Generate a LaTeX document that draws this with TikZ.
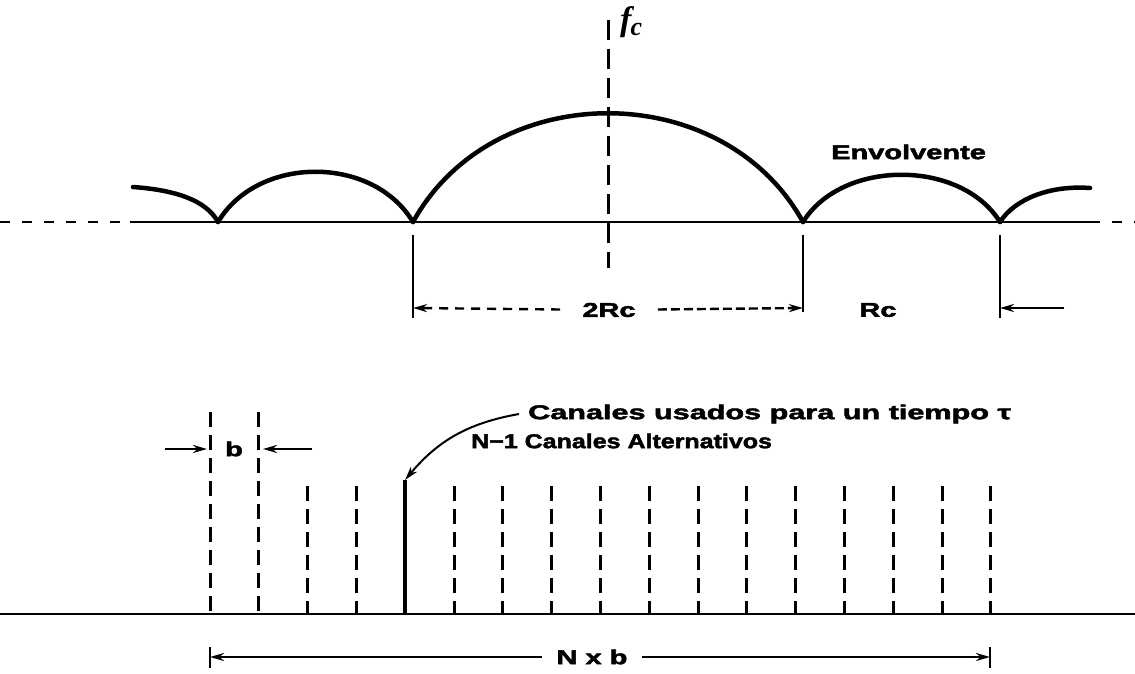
\documentclass[tikz,border=0pt]{standalone}
\usepackage{fontspec}
\setmainfont{Liberation Sans}[BoldFeatures={FakeBold=2}]
\newfontfamily\serifit{Liberation Serif}[BoldFeatures={FakeBold=1.5}]
\usetikzlibrary{arrows.meta,positioning}
\tikzset{
  axis/.style={line width=2.4pt},
  sparse/.style={dash pattern=on 10pt off 12pt},
  lobe/.style={line width=4.5pt, line cap=round},
  carrier/.style={line width=3pt, dash pattern=on 20pt off 9pt},
  chan/.style={line width=3pt, dash pattern=on 15pt off 8pt},
  used/.style={line width=4.2pt},
  dimline/.style={line width=2.4pt},
  dim/.style={dimline, -{Stealth[length=14pt,width=8pt]}},
  lbl/.style={font=\fontsize{20}{22}\selectfont\bfseries, inner sep=1pt},
}
\newcommand{\wide}[2][1.45]{\scalebox{#1}[1]{#2}}

\begin{document}
\begin{tikzpicture}[x=1pt, y=-1pt]
  \useasboundingbox (0,0) rectangle (1135,674);
  % envelope
  \coordinate (tl) at (0,222);
  \coordinate (ta) at (130,222);
  \coordinate (tb) at (1090,222);
  \coordinate (tr) at (1135,222);
  \coordinate (z1) at (218,222);
  \coordinate (z2) at (413,222);
  \coordinate (z3) at (803,222);
  \coordinate (z4) at (1000,222);
  \coordinate (e0) at (133,187);
  \coordinate (e5) at (1090,188);
  \draw[axis, sparse] (tl) -- (ta);
  \draw[axis] (ta) -- (tb);
  \draw[axis, sparse] (tb) -- (tr);
  \draw[lobe] (e0) .. controls +(42,3) and +(-12,-22) .. (z1);
  \draw[lobe] (z1) .. controls +(40,-67) and +(-40,-67) .. (z2);
  \draw[lobe] (z2) .. controls +(80,-145) and +(-80,-145) .. (z3);
  \draw[lobe] (z3) .. controls +(39,-63) and +(-39,-63) .. (z4);
  \draw[lobe] (z4) .. controls +(14,-22) and +(-42,-3) .. (e5);
  \coordinate (fctop) at (608,20);
  \coordinate (fcbot) at (608,268);
  \draw[carrier] (fctop) -- (fcbot);
  \node[anchor=west, inner sep=0pt, font=\serifit\bfseries\itshape] (fc) at (620,22)
    {\fontsize{34}{36}\selectfont f\kern-1pt\raisebox{-5pt}{\fontsize{26}{26}\selectfont c}};
  \node[lbl, anchor=west] (env) at (830,152) {\wide{Envolvente}};
  % 2Rc and Rc
  \coordinate (d2a) at (413,235);
  \coordinate (d2b) at (413,318);
  \coordinate (d3a) at (803,235);
  \coordinate (d3b) at (803,312);
  \coordinate (d4a) at (1000,235);
  \coordinate (d4b) at (1000,318);
  \draw[dimline] (d2a) -- (d2b);
  \draw[dimline] (d3a) -- (d3b);
  \draw[dimline] (d4a) -- (d4b);
  \coordinate (a2) at (413,308);
  \coordinate (a3) at (803,308);
  \coordinate (a4) at (1000,308);
  \coordinate (a5) at (1064,308);
  \node[lbl, inner xsep=22pt] (rc2) at (609,310) {\wide{2Rc}};
  \node[lbl] (rc1) at (878,310) {\wide{Rc}};
  \draw[dim, dash pattern=on 9pt off 7pt] (rc2) -- (a2);
  \draw[dim, dash pattern=on 9pt off 4pt] (rc2) -- (a3);
  \draw[dim] (a5) -- (a4);
  % channels
  \coordinate (bl) at (0,614);
  \coordinate (br) at (1135,614);
  \draw[axis] (bl) -- (br);
  \foreach \k in {0,1}
    \draw[chan] (210+48.8*\k,412) -- (210+48.8*\k,614);
  \foreach \k in {2,3,5,6,...,16}
    \draw[chan] (210+48.8*\k,486) -- (210+48.8*\k,614);
  \coordinate (cuse) at (405,480);
  \coordinate (cfoot) at (405,614);
  \draw[used] (cuse) -- (cfoot);
  \coordinate (bw0) at (165,449);
  \coordinate (bw1) at (207,449);
  \coordinate (bw2) at (263,449);
  \coordinate (bw3) at (312,449);
  \node[lbl] (b) at (234,449) {\wide{b}};
  \draw[dim] (bw0) -- (bw1);
  \draw[dim] (bw3) -- (bw2);
  \node[lbl, anchor=west] (usedtxt) at (527,414) {\wide[1.53]{Canales usados para un tiempo τ}};
  \node[lbl, anchor=west] (alt) at (470,441) {\wide[1.25]{N−1 Canales Alternativos}};
  \draw[dim, line width=2pt] ([xshift=-8pt]usedtxt.west) to[bend right=20] (cuse);
  % N x b
  \coordinate (n1) at (210,657);
  \coordinate (n2) at (990,657);
  \coordinate (t1a) at (210,647);
  \coordinate (t1b) at (210,668);
  \coordinate (t2a) at (990,647);
  \coordinate (t2b) at (990,668);
  \draw[dimline] (t1a) -- (t1b);
  \draw[dimline] (t2a) -- (t2b);
  \node[lbl, inner xsep=14pt] (nxb) at (592,657) {\wide{N x b}};
  \draw[dim] (nxb) -- (n1);
  \draw[dim] (nxb) -- (n2);
\end{tikzpicture}
\end{document}
